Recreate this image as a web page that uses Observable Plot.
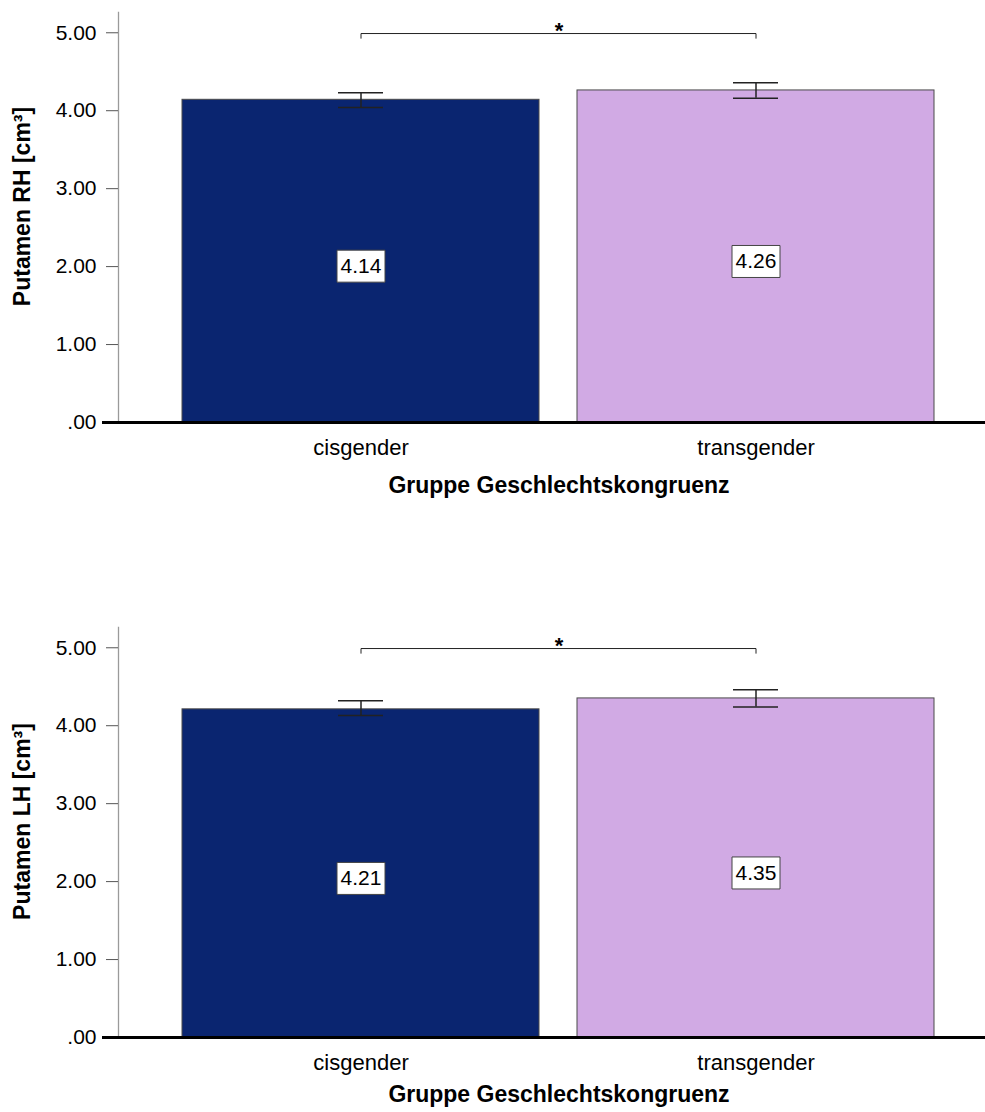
<!DOCTYPE html>
<html><head><meta charset="utf-8">
<script src="https://cdn.jsdelivr.net/npm/d3@7"></script>
<script src="https://cdn.jsdelivr.net/npm/@observablehq/plot@0.6"></script>
<style>
body{margin:0;background:#fff;}
#chart{width:985px;height:1112px;overflow:hidden;background:#fff}
#chart svg{display:block}
</style>
</head><body><div id="chart"></div>
<script>
// ---- data ----
const groups = ["cisgender", "transgender"];
const rhMeans = [4.14, 4.26];
const rhLow   = [4.04, 4.16];
const rhHigh  = [4.23, 4.36];
const lhMeans = [4.21, 4.35];
const lhLow   = [4.13, 4.24];
const lhHigh  = [4.32, 4.46];
const yTicks  = [0, 1, 2, 3, 4, 5];
const yTitles = ["Putamen RH [cm³]", "Putamen LH [cm³]"];
const xTitle  = "Gruppe Geschlechtskongruenz";
const sigLabel = "*";
const bracketTop = 4.99;
const bracketEnd = 4.93;
const barColors = ["#0a2570", "#d1aae4"];

const fmt = d => d3.format(".2f")(d).replace(/^0\./, ".");

// rectangular box symbol for value labels
const labelBox = {draw(ctx) { ctx.moveTo(-24, -16); ctx.lineTo(24, -16); ctx.lineTo(24, 16); ctx.lineTo(-24, 16); ctx.closePath(); }};

function panel(means, lo, hi, yTitle, height, marginBottom, titleDy) {
  const data = groups.map((g, i) => ({group: g, mean: means[i], lo: lo[i], hi: hi[i]}));
  const bracket = [
    {group: groups[0], y: bracketEnd},
    {group: groups[0], y: bracketTop},
    {group: groups[1], y: bracketTop},
    {group: groups[1], y: bracketEnd}
  ];
  return Plot.plot({
    width: 985,
    height,
    marginLeft: 118,
    marginRight: 0,
    marginTop: 12,
    marginBottom,
    style: {fontFamily: "'Liberation Sans', Arial, sans-serif", fontSize: "21px", background: "#fff", color: "#000"},
    x: {domain: groups, paddingInner: 0.0957, paddingOuter: 0.1427, align: 0.5575, label: null},
    y: {domain: [0, 5.26], label: null},
    color: {domain: groups, range: barColors},
    marks: [
      Plot.frame({anchor: "left", stroke: "#9a9a9a", strokeWidth: 1.3}),
      Plot.axisY({ticks: yTicks, tickFormat: fmt, tickSize: 12, tickPadding: 10, fontSize: 21, stroke: "#555", label: null}),
      Plot.axisX({tickSize: 0, tickPadding: 17, fontSize: 22, label: null}),
      Plot.barY(data, {x: "group", y: "mean", fill: "group", stroke: "#4a4a4a", strokeWidth: 1}),
      Plot.ruleX(data, {x: "group", y1: "lo", y2: "hi", stroke: "#222", strokeWidth: 1.5}),
      Plot.tickY(data, {x: "group", y: "lo", stroke: "#222", strokeWidth: 1.5, inset: 156}),
      Plot.tickY(data, {x: "group", y: "hi", stroke: "#222", strokeWidth: 1.5, inset: 156}),
      Plot.dot(data, {x: "group", y: d => d.mean / 2, symbol: labelBox, fill: "#fff", stroke: "#444", strokeWidth: 1, dy: 5}),
      Plot.text(data, {x: "group", y: d => d.mean / 2, text: d => d.mean.toFixed(2), fontSize: 21, fill: "#000", dy: 5}),
      Plot.line(bracket, {x: "group", y: "y", stroke: "#222", strokeWidth: 1}),
      Plot.text([sigLabel], {y: bracketTop, text: d => d, frameAnchor: "middle", dx: 7, dy: -3, fontSize: 22, fontWeight: "bold"}),
      Plot.ruleY([0], {stroke: "#000", strokeWidth: 3, insetLeft: -16}),
      Plot.text([yTitle], {text: d => d, frameAnchor: "left", textAnchor: "middle", rotate: -90, dx: -96, dy: -11, fontSize: 23, fontWeight: "bold"}),
      Plot.text([xTitle], {text: d => d, frameAnchor: "bottom", dx: 7, dy: titleDy, fontSize: 23, fontWeight: "bold"})
    ]
  });
}

const root = document.getElementById("chart");
root.append(panel(rhMeans, rhLow, rhHigh, yTitles[0], 615, 193, 70));
root.append(panel(lhMeans, lhLow, lhHigh, yTitles[1], 497, 75, 64));
</script>
</body></html>
